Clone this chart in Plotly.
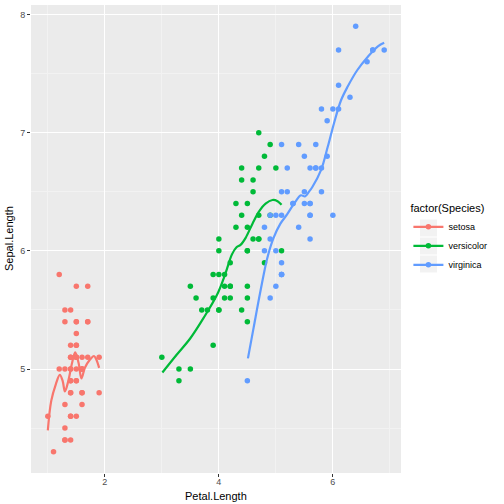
import plotly.graph_objects as go

# iris: Petal.Length / Sepal.Length by species
setosa_petal = [1.4, 1.4, 1.3, 1.5, 1.4, 1.7, 1.4, 1.5, 1.4, 1.5, 1.5, 1.6, 1.4, 1.1, 1.2, 1.5, 1.3, 1.4, 1.7, 1.5,
                1.7, 1.5, 1.0, 1.7, 1.9, 1.6, 1.6, 1.5, 1.4, 1.6, 1.6, 1.5, 1.5, 1.4, 1.5, 1.2, 1.3, 1.4, 1.3, 1.5,
                1.3, 1.3, 1.3, 1.6, 1.9, 1.4, 1.6, 1.4, 1.5, 1.4]
setosa_sepal = [5.1, 4.9, 4.7, 4.6, 5.0, 5.4, 4.6, 5.0, 4.4, 4.9, 5.4, 4.8, 4.8, 4.3, 5.8, 5.7, 5.4, 5.1, 5.7, 5.1,
                5.4, 5.1, 4.6, 5.1, 4.8, 5.0, 5.0, 5.2, 5.2, 4.7, 4.8, 5.4, 5.2, 5.5, 4.9, 5.0, 5.5, 4.9, 4.4, 5.1,
                5.0, 4.5, 4.4, 5.0, 5.1, 4.8, 5.1, 4.6, 5.3, 5.0]
versicolor_petal = [4.7, 4.5, 4.9, 4.0, 4.6, 4.5, 4.7, 3.3, 4.6, 3.9, 3.5, 4.2, 4.0, 4.7, 3.6, 4.4, 4.5, 4.1, 4.5, 3.9,
                    4.8, 4.0, 4.9, 4.7, 4.3, 4.4, 4.8, 5.0, 4.5, 3.5, 3.8, 3.7, 3.9, 5.1, 4.5, 4.5, 4.7, 4.4, 4.1, 4.0,
                    4.4, 4.6, 4.0, 3.3, 4.2, 4.2, 4.2, 4.3, 3.0, 4.1]
versicolor_sepal = [7.0, 6.4, 6.9, 5.5, 6.5, 5.7, 6.3, 4.9, 6.6, 5.2, 5.0, 5.9, 6.0, 6.1, 5.6, 6.7, 5.6, 5.8, 6.2, 5.6,
                    5.9, 6.1, 6.3, 6.1, 6.4, 6.6, 6.8, 6.7, 6.0, 5.7, 5.5, 5.5, 5.8, 6.0, 5.4, 6.0, 6.7, 6.3, 5.6, 5.5,
                    5.5, 6.1, 5.8, 5.0, 5.6, 5.7, 5.7, 6.2, 5.1, 5.7]
virginica_petal = [6.0, 5.1, 5.9, 5.6, 5.8, 6.6, 4.5, 6.3, 5.8, 6.1, 5.1, 5.3, 5.5, 5.0, 5.1, 5.3, 5.5, 6.7, 6.9, 5.0,
                   5.7, 4.9, 6.7, 4.9, 5.7, 6.0, 4.8, 4.9, 5.6, 5.8, 6.1, 6.4, 5.6, 5.1, 5.6, 6.1, 5.6, 5.5, 4.8, 5.4,
                   5.6, 5.1, 5.1, 5.9, 5.7, 5.2, 5.0, 5.2, 5.4, 5.1]
virginica_sepal = [6.3, 5.8, 7.1, 6.3, 6.5, 7.6, 4.9, 7.3, 6.7, 7.2, 6.5, 6.4, 6.8, 5.7, 5.8, 6.4, 6.5, 7.7, 7.7, 6.0,
                   6.9, 5.6, 7.7, 6.3, 6.7, 7.2, 6.2, 6.1, 6.4, 7.2, 7.4, 7.9, 6.4, 6.3, 6.1, 7.7, 6.3, 6.4, 6.0, 6.9,
                   6.7, 6.9, 5.8, 6.8, 6.7, 6.7, 6.3, 6.5, 6.2, 5.9]

# smoothed (loess) curves
setosa_fit_x = [1.00, 1.06, 1.14, 1.21, 1.26, 1.30, 1.36, 1.42, 1.48, 1.54, 1.59, 1.65, 1.74, 1.81, 1.85, 1.90]
setosa_fit_y = [4.48, 4.73, 4.87, 4.95, 4.90, 4.81, 4.90, 5.04, 5.14, 5.05, 4.92, 5.01, 5.08, 5.11, 5.08, 5.01]
versicolor_fit_x = [3.01, 3.26, 3.50, 3.73, 3.97, 4.11, 4.23, 4.31, 4.38, 4.47, 4.59, 4.70, 4.82, 4.94, 5.03, 5.10]
versicolor_fit_y = [4.97, 5.12, 5.26, 5.43, 5.63, 5.80, 5.97, 6.03, 6.05, 6.11, 6.23, 6.33, 6.40, 6.43, 6.42, 6.39]
virginica_fit_x = [4.51, 4.61, 4.73, 4.85, 4.96, 5.08, 5.20, 5.32, 5.44, 5.51, 5.58, 5.64, 5.79, 5.91, 6.02, 6.14,
                   6.26, 6.43, 6.61, 6.79, 6.90]
virginica_fit_y = [5.09, 5.35, 5.66, 5.94, 6.11, 6.23, 6.31, 6.40, 6.47, 6.46, 6.50, 6.54, 6.68, 6.88, 7.08, 7.27,
                   7.39, 7.53, 7.64, 7.73, 7.76]

species = ["setosa", "versicolor", "virginica"]
colors = ["#F8766D", "#00BA38", "#619CFF"]

groups = [
    (setosa_petal, setosa_sepal, setosa_fit_x, setosa_fit_y),
    (versicolor_petal, versicolor_sepal, versicolor_fit_x, versicolor_fit_y),
    (virginica_petal, virginica_sepal, virginica_fit_x, virginica_fit_y),
]

fig = go.Figure()
for name, col, (px_, py_, fx, fy) in zip(species, colors, groups):
    fig.add_trace(go.Scatter(x=px_, y=py_, mode="markers", name=name, legendgroup=name,
                             marker=dict(color=col, size=5.5), showlegend=False))
    fig.add_trace(go.Scatter(x=fx, y=fy, mode="lines", name=name, legendgroup=name,
                             line=dict(color=col, width=2.2, shape="spline"), showlegend=False))
    # legend key: point + line like ggplot
    fig.add_trace(go.Scatter(x=[None], y=[None], mode="lines+markers", name=name, legendgroup=name,
                             marker=dict(color=col, size=5.5), line=dict(color=col, width=2.2)))

axis_common = dict(
    showgrid=True, gridcolor="white", gridwidth=1.1,
    zeroline=False, showline=False, automargin=False,
    ticks="outside", ticklen=3, tickcolor="#333333", tickwidth=1,
    tickfont=dict(size=9, color="#4d4d4d"),
    minor=dict(showgrid=True, gridcolor="#f2f2f2", gridwidth=0.5),
)

fig.update_xaxes(axis_common, range=[0.705, 7.195], tick0=0, dtick=2, ticklabelstandoff=-3)
fig.update_yaxes(axis_common, range=[4.12, 8.08], tick0=0, dtick=1)
fig.update_xaxes(minor=dict(dtick=1, tick0=0))
fig.update_yaxes(minor=dict(dtick=0.5, tick0=0))

# axis titles placed like ggplot
fig.add_annotation(text="Petal.Length", xref="paper", yref="paper", x=0.5, y=0,
                   yshift=-15, yanchor="top", showarrow=False, font=dict(size=11, color="black"))
fig.add_annotation(text="Sepal.Length", xref="paper", yref="paper", x=0, y=0.5,
                   xshift=-30, xanchor="left", textangle=-90, showarrow=False,
                   font=dict(size=11, color="black"))

# grey backgrounds behind the legend keys
for cy in [228, 246, 264]:
    fig.add_shape(type="rect", xref="paper", yref="paper", layer="above",
                  x0=(420 - 31) / 370, x1=(437 - 31) / 370,
                  y0=(473 - cy - 8.5) / 468, y1=(473 - cy + 8.5) / 468,
                  fillcolor="#F2F2F2", line_width=0)

fig.update_layout(
    width=504, height=504,
    margin=dict(l=31, r=103, t=5, b=31),
    plot_bgcolor="#EBEBEB", paper_bgcolor="white",
    font=dict(family="Liberation Sans, Arial, sans-serif"),
    legend=dict(title=dict(text="factor(Species)", font=dict(size=11, color="black")),
                font=dict(size=9, color="black"),
                x=1.02, xanchor="left", y=0.5, yanchor="middle",
                bgcolor="rgba(0,0,0,0)", tracegroupgap=0, itemwidth=30),
)

fig.write_html("out.html", config={"displayModeBar": False},
               post_script="document.body.style.margin='0';")
